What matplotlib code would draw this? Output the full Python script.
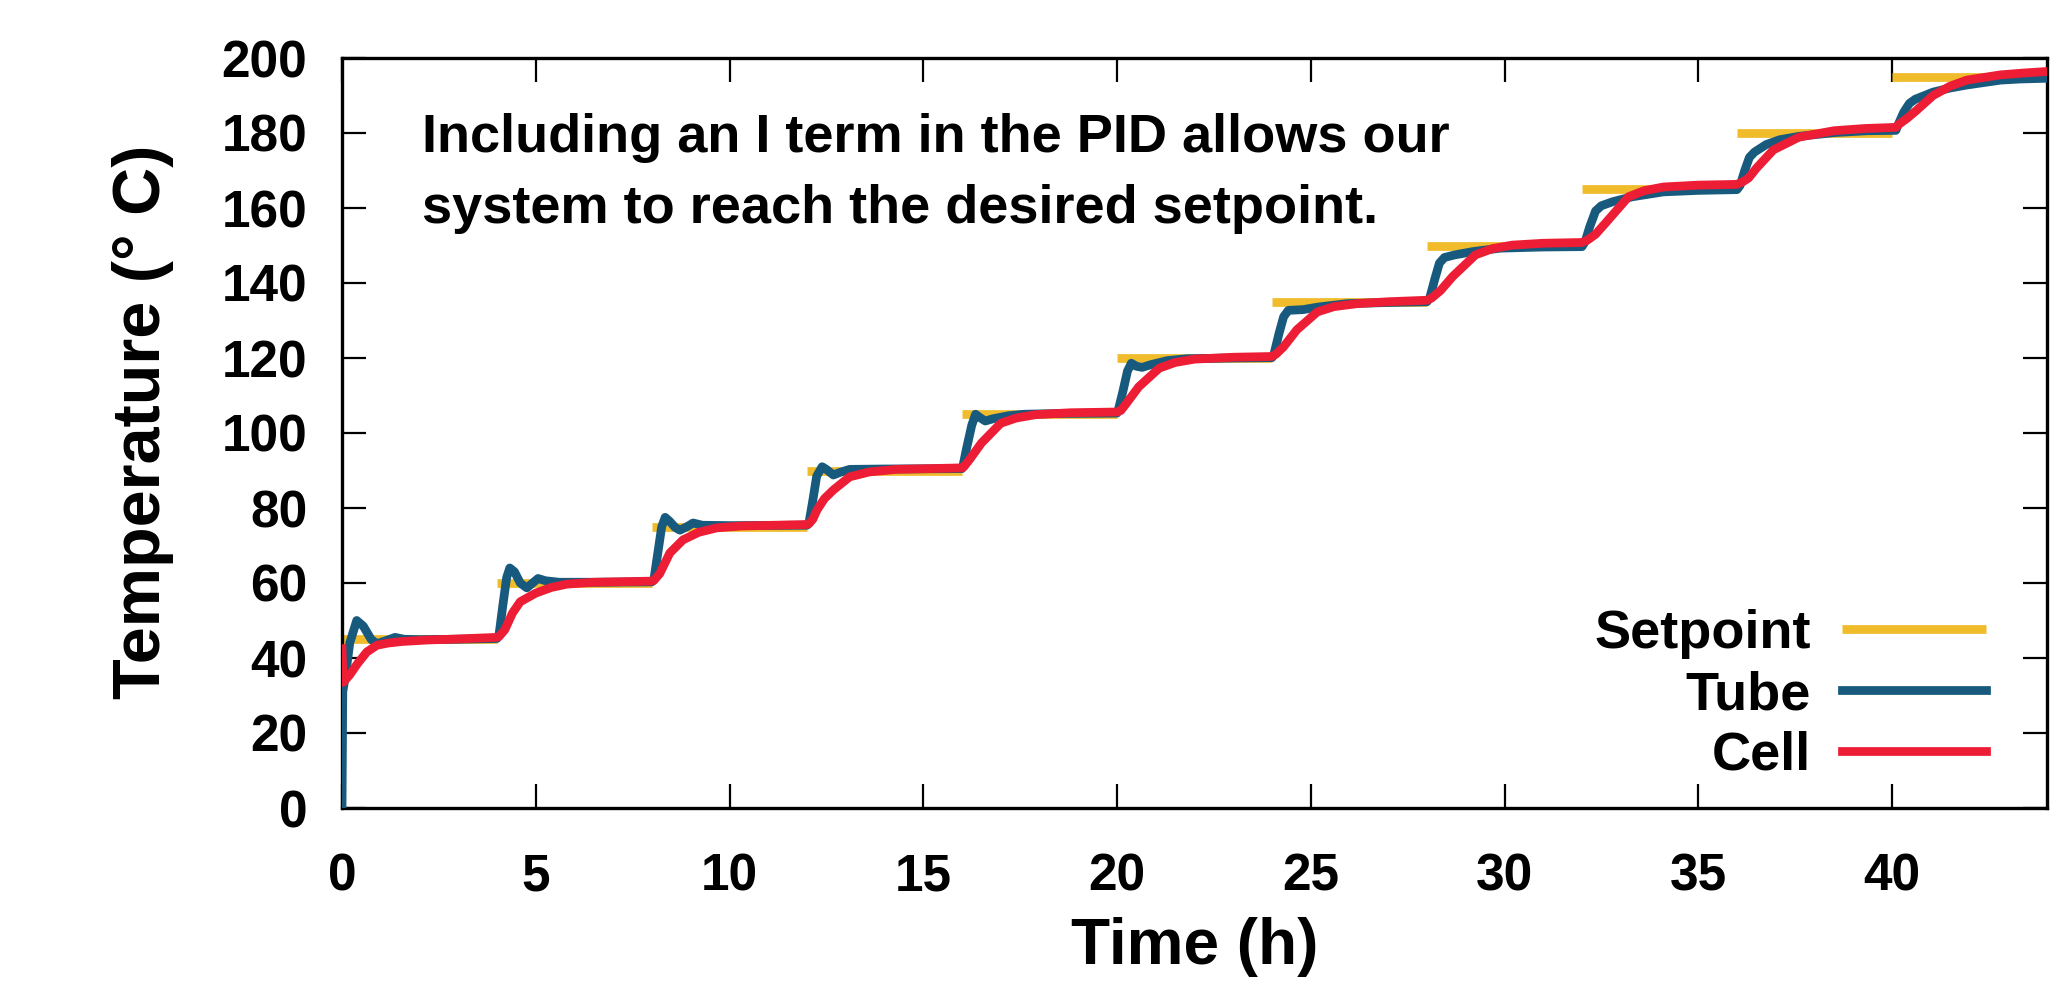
import numpy as np
import matplotlib
matplotlib.use("Agg")
import matplotlib.pyplot as plt

# setpoint steps (start time, end time, value)
step_start = [0, 4, 8, 12, 16, 20, 24, 28, 32, 36, 40]
step_end = [4, 8, 12, 16, 20, 24, 28, 32, 36, 40, 44]
setpoint = [45, 60, 75, 90, 105, 120, 135, 150, 165, 180, 195]

# tube temperature
tube_t = [0, 0.02, 0.1, 0.2, 0.38, 0.55, 0.75, 0.9, 1.1, 1.37, 1.6, 2.0, 3.0, 4.0,
          4.05, 4.15, 4.25, 4.33, 4.45, 4.6, 4.77, 4.92, 5.06, 5.25, 5.6, 6.5, 8.0,
          8.05, 8.15, 8.25, 8.34, 8.45, 8.6, 8.72, 8.9, 9.06, 9.3, 10.0, 12.0,
          12.05, 12.15, 12.25, 12.39, 12.5, 12.68, 12.85, 13.1, 14.0, 16.0,
          16.02, 16.12, 16.25, 16.35, 16.45, 16.6, 16.8, 17.2, 17.6, 18.5, 20.0,
          20.03, 20.15, 20.27, 20.37, 20.5, 20.65, 20.9, 21.3, 21.8, 23.0, 24.0,
          24.05, 24.18, 24.3, 24.42, 24.6, 24.8, 25.2, 25.95, 27.0, 28.0,
          28.07, 28.2, 28.32, 28.45, 28.72, 29.2, 29.9, 31.0, 32.0,
          32.08, 32.2, 32.35, 32.5, 32.8, 33.3, 34.1, 35.0, 36.0,
          36.08, 36.2, 36.32, 36.45, 36.75, 37.1, 37.6, 38.5, 39.35, 40.1,
          40.15, 40.3, 40.45, 40.6, 41.06, 41.5, 41.93, 42.8, 43.3, 44.0]
tube_T = [0, 31, 36, 44, 50, 48.5, 45, 43.8, 44.5, 45.5, 45, 44.9, 45, 45.2,
          46, 54, 61.5, 64, 63, 60, 58.7, 60, 61.2, 60.6, 60.2, 60.2, 60.3,
          61, 68, 75, 77.5, 76.5, 74.8, 74.1, 75, 76, 75.4, 75.3, 75.4,
          76, 82, 88.5, 91, 90.3, 88.8, 89.5, 90.3, 90.4, 90.5,
          91, 96, 102, 105, 104.2, 103.2, 103.8, 104.6, 105, 105.2, 105.3,
          106, 111, 116.5, 118.6, 117.8, 117.5, 118.3, 119.3, 119.8, 120, 120.1,
          121, 126.5, 131, 132.7, 132.8, 132.9, 133.6, 134.5, 134.8, 135,
          136, 141, 145.3, 146.8, 147.5, 148.4, 149.3, 149.6, 149.7,
          151, 155, 159.2, 160.6, 161.7, 163, 164.3, 164.7, 164.9,
          166, 170, 173.5, 174.9, 176.9, 178.2, 179.1, 180.1, 180.6, 180.7,
          182, 185.5, 187.9, 189, 190.9, 192, 192.8, 194.1, 194.4, 194.6]

# cell temperature
cell_t = [0, 0.03, 0.2, 0.4, 0.64, 0.9, 1.2, 1.55, 2.2, 2.8, 4.0,
          4.05, 4.2, 4.4, 4.6, 5.0, 5.4, 5.8, 6.5, 8.0,
          8.05, 8.2, 8.46, 8.8, 9.2, 9.67, 10.3, 12.0,
          12.05, 12.15, 12.26, 12.45, 12.68, 13.1, 13.6, 14.3, 16.0,
          16.05, 16.2, 16.5, 17.0, 17.4, 17.9, 18.8, 20.0,
          20.1, 20.25, 20.56, 21.09, 21.5, 22.0, 23.0, 24.0,
          24.1, 24.3, 24.64, 25.17, 25.6, 26.2, 27.0, 28.0,
          28.12, 28.35, 28.66, 29.25, 29.7, 30.2, 31.0, 32.0,
          32.15, 32.35, 32.6, 33.2, 33.6, 34.1, 35.0, 36.0,
          36.15, 36.3, 36.5, 36.94, 37.6, 38.5, 39.3, 40.1,
          40.2, 40.4, 40.64, 41.06, 41.5, 41.93, 42.8, 43.4, 44.0]
cell_T = [42.5, 33.5, 35.5, 38.5, 41.6, 43.4, 44, 44.4, 44.8, 45, 45.5,
          45.7, 47.5, 52, 55, 57.3, 58.8, 59.7, 60.2, 60.5,
          60.7, 62.5, 68, 71.5, 73.5, 74.7, 75.2, 75.6,
          75.8, 77, 79.5, 82.5, 84.8, 88.3, 89.6, 90.3, 90.7,
          91, 93, 97.3, 102.6, 104, 104.9, 105.4, 105.6,
          106, 108, 112.3, 117.3, 118.8, 119.7, 120.2, 120.4,
          121, 123, 127.5, 132.3, 133.7, 134.5, 135, 135.4,
          136, 138, 141.7, 147.5, 149.2, 150.1, 150.6, 150.8,
          151.5, 153, 155.9, 163, 164.6, 165.6, 166.1, 166.3,
          167, 168, 170.6, 175.5, 178.9, 180.6, 181.2, 181.5,
          182.5, 184, 186.1, 190, 192.5, 194.1, 195.5, 196, 196.4]

plt.rcParams['font.family'] = ['Liberation Sans', 'DejaVu Sans']
plt.rcParams['font.weight'] = 'bold'

fig = plt.figure(figsize=(20.66, 9.89), dpi=100)
ax = fig.add_axes([342 / 2066, 181 / 989, 1705 / 2066, 750 / 989])

lw = 6.3
ax.hlines(setpoint, step_start, step_end, color='#F0BC2C', lw=lw, label='Setpoint', zorder=2)
ax.plot(tube_t, tube_T, color='#185A7D', lw=lw, label='Tube', zorder=3,
        solid_joinstyle='round')
ax.plot(cell_t, cell_T, color='#EC1D35', lw=lw, label='Cell', zorder=4,
        solid_joinstyle='round')

ax.set_xlim(0, 44)
ax.set_ylim(0, 200)
ax.set_xticks(range(0, 41, 5))
ax.set_yticks(range(0, 201, 20))
ax.tick_params(direction='in', top=True, right=True, length=17, width=1.6,
               labelsize=37)
ax.tick_params(axis='y', pad=25)
ax.tick_params(axis='x', pad=32)
for s in ax.spines.values():
    s.set_linewidth(2.4)

ax.set_xlabel('Time (h)', fontsize=46, fontweight='bold')
ax.xaxis.set_label_coords(0.5, -0.145)
ax.xaxis.label.set_va('top')
ax.set_ylabel('Temperature (° C)', fontsize=48, fontweight='bold')
ax.yaxis.set_label_coords(-0.0985, 0.515)

ax.text(0.047, 0.927, 'Including an I term in the PID allows our\nsystem to reach the desired setpoint.',
        transform=ax.transAxes, fontsize=39, fontweight='bold', ha='left', va='top',
        linespacing=1.55)

leg = ax.legend(loc='lower right', bbox_to_anchor=(1986 / 2066, 208 / 989),
                bbox_transform=fig.transFigure, frameon=False, markerfirst=False,
                fontsize=39, handlelength=2.65, handletextpad=0.58,
                labelspacing=0.2, borderpad=0, borderaxespad=0)
for t in leg.get_texts():
    t.set_fontweight('bold')

fig.savefig('out.png', dpi=100)
